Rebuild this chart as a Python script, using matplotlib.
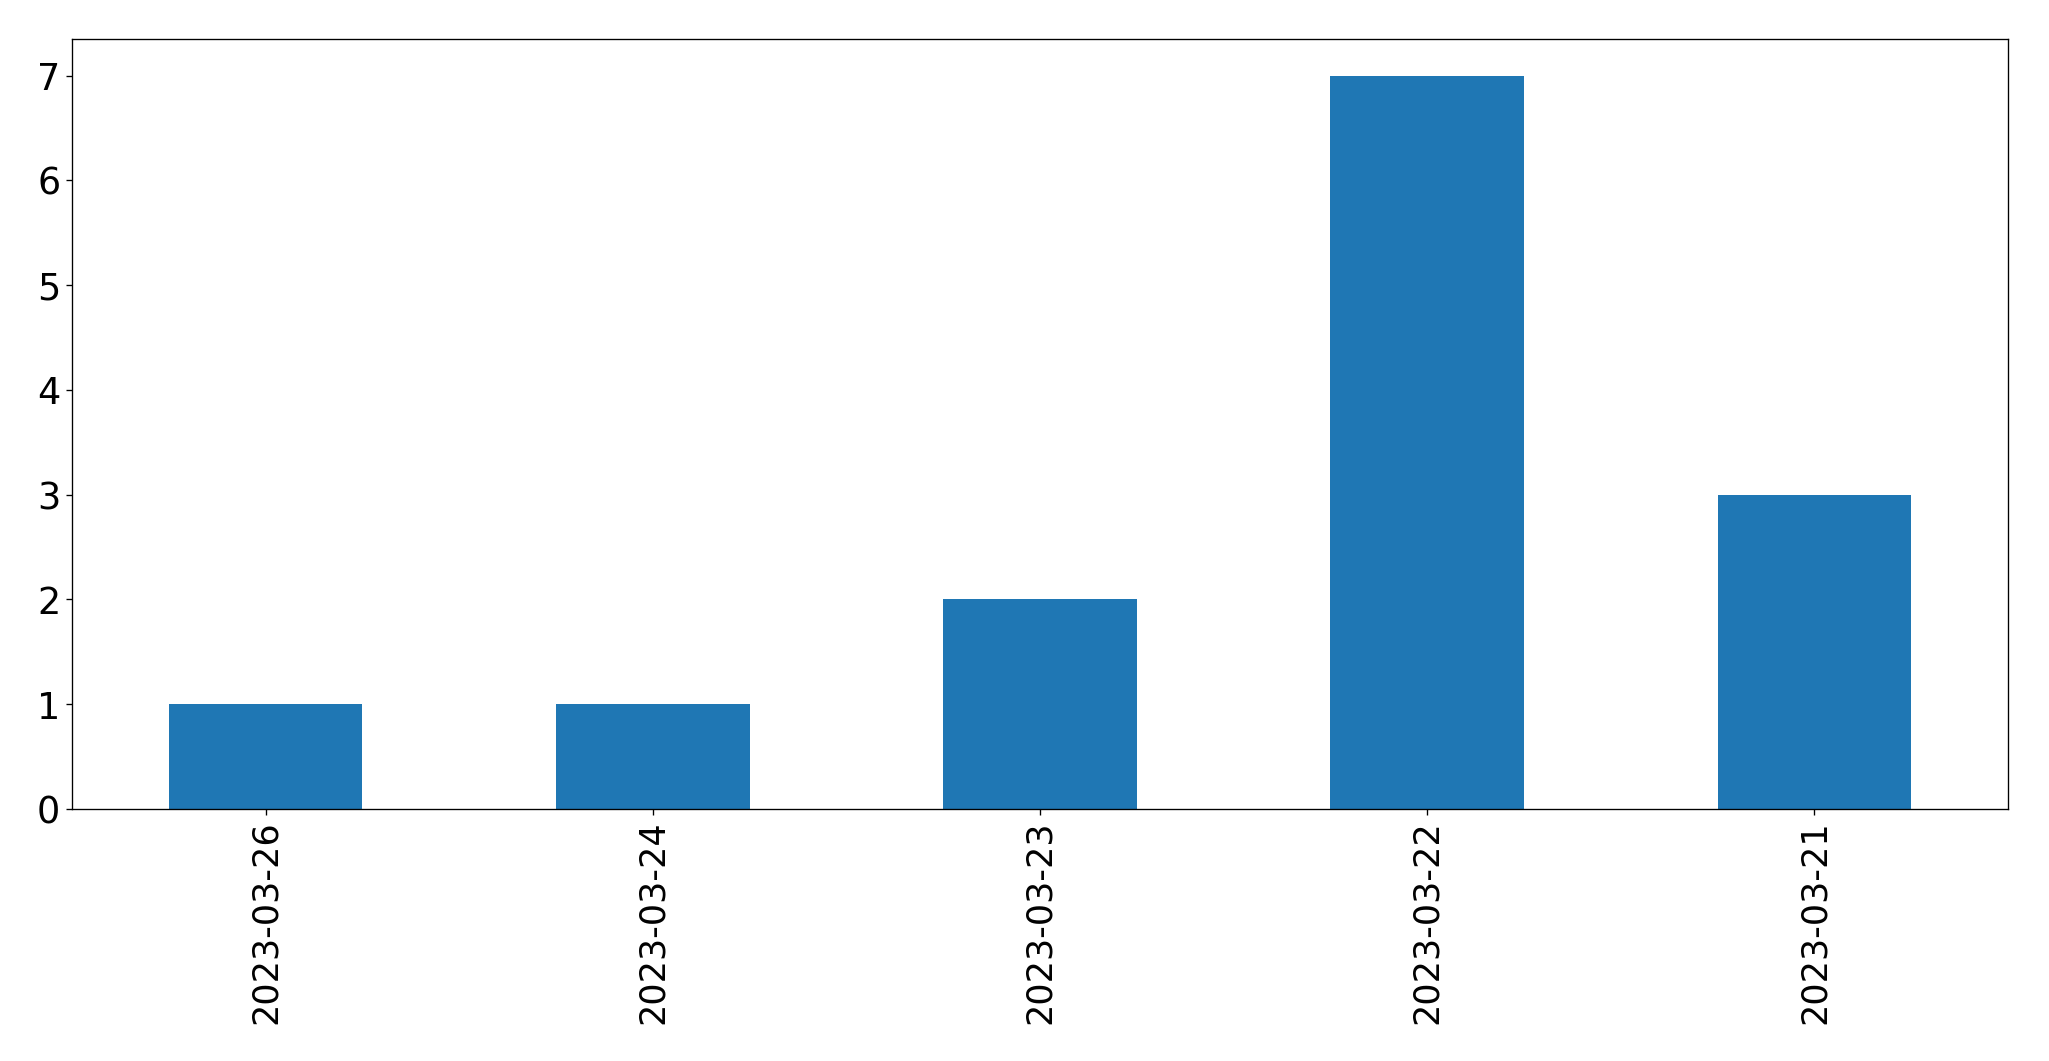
import matplotlib
matplotlib.use("Agg")
import matplotlib.pyplot as plt
import pandas as pd

dates = ["2023-03-26", "2023-03-24", "2023-03-23", "2023-03-22", "2023-03-21"]
counts = [1, 1, 2, 7, 3]

DPI = 120
fig = plt.figure(figsize=(2049 / DPI, 1061 / DPI), dpi=DPI)
ax = fig.add_axes([72 / 2049, 1 - 809 / 1061, (2008 - 72) / 2049, (809 - 39) / 1061])

s = pd.Series(counts, index=dates)
s.plot.bar(ax=ax, color="#1f77b4")
ax.tick_params(axis="x", labelsize=21)
ax.tick_params(axis="y", labelsize=22)

fig.savefig("out.png", dpi=DPI)
